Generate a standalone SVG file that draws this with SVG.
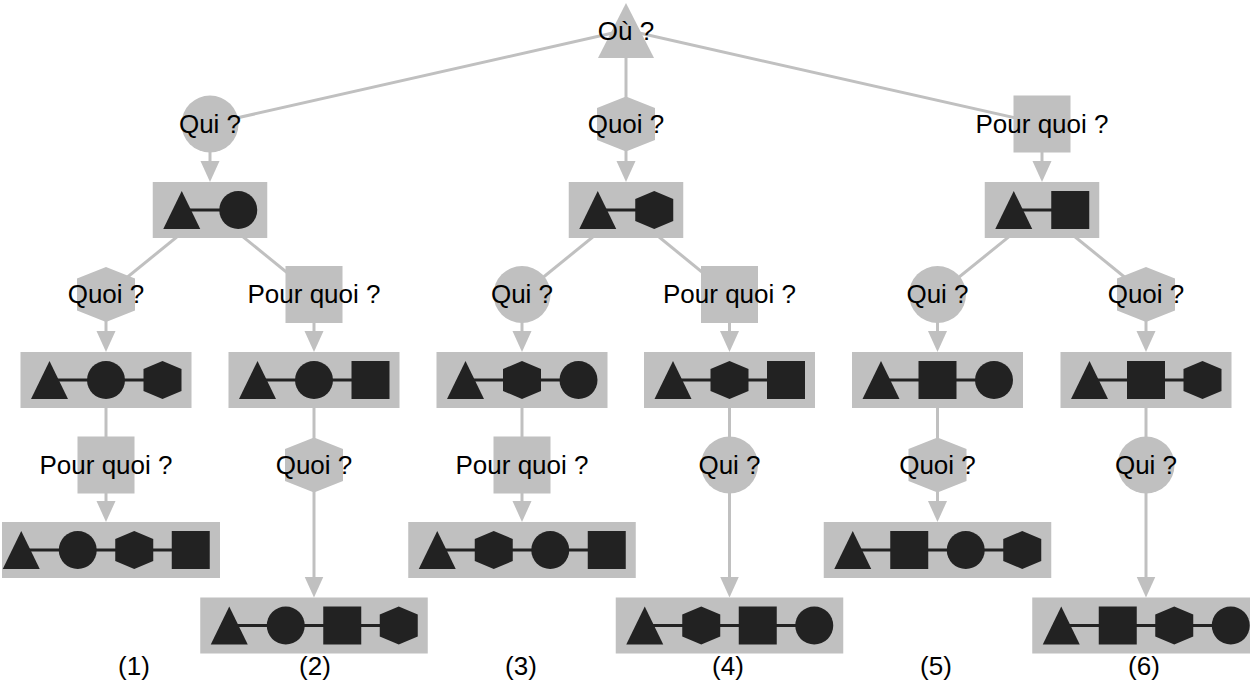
<svg xmlns="http://www.w3.org/2000/svg" xmlns:xlink="http://www.w3.org/1999/xlink" width="1250" height="688" viewBox="0 0 1250 688">
<style>
.e{stroke:#c0c0c0;stroke-width:3;fill:none}
.a{marker-end:url(#arr)}
.n{fill:#c0c0c0}
.s{fill:#222}
.lk{stroke:#222;stroke-width:3}
text{font-family:"Liberation Sans",Arial,Helvetica,sans-serif;font-size:26px;text-anchor:middle;fill:#000}
</style>
<defs>
<marker id="arr" markerUnits="userSpaceOnUse" viewBox="0 0 22 20" markerWidth="22" markerHeight="20" refX="11" refY="10" orient="auto"><path d="M0,0.5 L21,10 L0,19.5 Z" fill="#c0c0c0"/></marker>
<path id="sT" d="M0,-19 L18.5,19 L-18.5,19 Z"/>
<circle id="sC" r="19"/>
<path id="sH" d="M0,-19 L19,-11 L19,11 L0,19 L-19,11 L-19,-11 Z"/>
<rect id="sS" x="-19" y="-19" width="38" height="38"/>
<circle id="qC" r="28.5"/>
<path id="qH" d="M0,-27.5 L29,-16 L29,16 L0,27.5 L-29,16 L-29,-16 Z"/>
<rect id="qS" x="-28.5" y="-28.5" width="57" height="57"/>
</defs>
<rect width="1250" height="688" fill="#fff"/>
<g id="connectors">
<path class="e" d="M626,30 L210,124"/>
<path class="e" d="M626,30 L626,124"/>
<path class="e" d="M626,30 L1042,124"/>
<path class="e a" d="M210,124 L210,172"/>
<path class="e a" d="M626,124 L626,172"/>
<path class="e a" d="M1042,124 L1042,172"/>
<path class="e" d="M210,210 L106,294.5"/>
<path class="e" d="M210,210 L314,294.5"/>
<path class="e" d="M626,210 L522,294.5"/>
<path class="e" d="M626,210 L729.5,294.5"/>
<path class="e" d="M1042,210 L937.5,294.5"/>
<path class="e" d="M1042,210 L1146,294.5"/>
<path class="e a" d="M106,294.5 L106,342"/>
<path class="e a" d="M314,294.5 L314,342"/>
<path class="e a" d="M522,294.5 L522,342"/>
<path class="e a" d="M729.5,294.5 L729.5,342"/>
<path class="e a" d="M937.5,294.5 L937.5,342"/>
<path class="e a" d="M1146,294.5 L1146,342"/>
<path class="e" d="M106,380 L106,465"/>
<path class="e" d="M314,380 L314,465"/>
<path class="e" d="M522,380 L522,465"/>
<path class="e" d="M729.5,380 L729.5,465"/>
<path class="e" d="M937.5,380 L937.5,465"/>
<path class="e" d="M1146,380 L1146,465"/>
<path class="e a" d="M106,465 L106,512"/>
<path class="e a" d="M314,465 L314,587.5"/>
<path class="e a" d="M522,465 L522,512"/>
<path class="e a" d="M729.5,465 L729.5,587.5"/>
<path class="e a" d="M937.5,465 L937.5,512"/>
<path class="e a" d="M1146,465 L1146,587.5"/>
</g>
<g id="q-ou"><path class="n" d="M626,3 L654,58 L598,58 Z"/><text x="626" y="40">Où ?</text></g>
<g id="q1-qui"><use href="#qC" x="210" y="124" class="n"/><text x="210" y="132.5">Qui ?</text></g>
<g id="q1-quoi"><use href="#qH" x="626" y="124" class="n"/><text x="626" y="132.5">Quoi ?</text></g>
<g id="q1-pourquoi"><use href="#qS" x="1042" y="124" class="n"/><text x="1042" y="132.5">Pour quoi ?</text></g>
<g id="b1-a"><rect class="n" x="152.75" y="182" width="114.5" height="56"/><line class="lk" x1="181.75" y1="210" x2="238.25" y2="210"/><use href="#sT" x="181.75" y="210" class="s"/><use href="#sC" x="238.25" y="210" class="s"/></g>
<g id="b1-b"><rect class="n" x="568.75" y="182" width="114.5" height="56"/><line class="lk" x1="597.75" y1="210" x2="654.25" y2="210"/><use href="#sT" x="597.75" y="210" class="s"/><use href="#sH" x="654.25" y="210" class="s"/></g>
<g id="b1-c"><rect class="n" x="984.75" y="182" width="114.5" height="56"/><line class="lk" x1="1013.75" y1="210" x2="1070.25" y2="210"/><use href="#sT" x="1013.75" y="210" class="s"/><use href="#sS" x="1070.25" y="210" class="s"/></g>
<g id="q2-1"><use href="#qH" x="106" y="294.5" class="n"/><text x="106" y="303">Quoi ?</text></g>
<g id="q2-2"><use href="#qS" x="314" y="294.5" class="n"/><text x="314" y="303">Pour quoi ?</text></g>
<g id="q2-3"><use href="#qC" x="522" y="294.5" class="n"/><text x="522" y="303">Qui ?</text></g>
<g id="q2-4"><use href="#qS" x="729.5" y="294.5" class="n"/><text x="729.5" y="303">Pour quoi ?</text></g>
<g id="q2-5"><use href="#qC" x="937.5" y="294.5" class="n"/><text x="937.5" y="303">Qui ?</text></g>
<g id="q2-6"><use href="#qH" x="1146" y="294.5" class="n"/><text x="1146" y="303">Quoi ?</text></g>
<g id="b2-1"><rect class="n" x="20.5" y="352" width="171" height="56"/><line class="lk" x1="49.5" y1="380" x2="162.5" y2="380"/><use href="#sT" x="49.5" y="380" class="s"/><use href="#sC" x="106" y="380" class="s"/><use href="#sH" x="162.5" y="380" class="s"/></g>
<g id="b2-2"><rect class="n" x="228.5" y="352" width="171" height="56"/><line class="lk" x1="257.5" y1="380" x2="370.5" y2="380"/><use href="#sT" x="257.5" y="380" class="s"/><use href="#sC" x="314" y="380" class="s"/><use href="#sS" x="370.5" y="380" class="s"/></g>
<g id="b2-3"><rect class="n" x="436.5" y="352" width="171" height="56"/><line class="lk" x1="465.5" y1="380" x2="578.5" y2="380"/><use href="#sT" x="465.5" y="380" class="s"/><use href="#sH" x="522" y="380" class="s"/><use href="#sC" x="578.5" y="380" class="s"/></g>
<g id="b2-4"><rect class="n" x="644" y="352" width="171" height="56"/><line class="lk" x1="673" y1="380" x2="786" y2="380"/><use href="#sT" x="673" y="380" class="s"/><use href="#sH" x="729.5" y="380" class="s"/><use href="#sS" x="786" y="380" class="s"/></g>
<g id="b2-5"><rect class="n" x="852" y="352" width="171" height="56"/><line class="lk" x1="881" y1="380" x2="994" y2="380"/><use href="#sT" x="881" y="380" class="s"/><use href="#sS" x="937.5" y="380" class="s"/><use href="#sC" x="994" y="380" class="s"/></g>
<g id="b2-6"><rect class="n" x="1060.5" y="352" width="171" height="56"/><line class="lk" x1="1089.5" y1="380" x2="1202.5" y2="380"/><use href="#sT" x="1089.5" y="380" class="s"/><use href="#sS" x="1146" y="380" class="s"/><use href="#sH" x="1202.5" y="380" class="s"/></g>
<g id="q3-1"><use href="#qS" x="106" y="465" class="n"/><text x="106" y="473.5">Pour quoi ?</text></g>
<g id="q3-2"><use href="#qH" x="314" y="465" class="n"/><text x="314" y="473.5">Quoi ?</text></g>
<g id="q3-3"><use href="#qS" x="522" y="465" class="n"/><text x="522" y="473.5">Pour quoi ?</text></g>
<g id="q3-4"><use href="#qC" x="729.5" y="465" class="n"/><text x="729.5" y="473.5">Qui ?</text></g>
<g id="q3-5"><use href="#qH" x="937.5" y="465" class="n"/><text x="937.5" y="473.5">Quoi ?</text></g>
<g id="q3-6"><use href="#qC" x="1146" y="465" class="n"/><text x="1146" y="473.5">Qui ?</text></g>
<g id="b3-1"><rect class="n" x="2" y="522" width="218" height="56"/><line class="lk" x1="21.25" y1="550" x2="190.75" y2="550"/><use href="#sT" x="21.25" y="550" class="s"/><use href="#sC" x="77.75" y="550" class="s"/><use href="#sH" x="134.25" y="550" class="s"/><use href="#sS" x="190.75" y="550" class="s"/></g>
<g id="b3-2"><rect class="n" x="200.25" y="597.5" width="227.5" height="56"/><line class="lk" x1="229.25" y1="625.5" x2="398.75" y2="625.5"/><use href="#sT" x="229.25" y="625.5" class="s"/><use href="#sC" x="285.75" y="625.5" class="s"/><use href="#sS" x="342.25" y="625.5" class="s"/><use href="#sH" x="398.75" y="625.5" class="s"/></g>
<g id="b3-3"><rect class="n" x="408.25" y="522" width="227.5" height="56"/><line class="lk" x1="437.25" y1="550" x2="606.75" y2="550"/><use href="#sT" x="437.25" y="550" class="s"/><use href="#sH" x="493.75" y="550" class="s"/><use href="#sC" x="550.25" y="550" class="s"/><use href="#sS" x="606.75" y="550" class="s"/></g>
<g id="b3-4"><rect class="n" x="615.75" y="597.5" width="227.5" height="56"/><line class="lk" x1="644.75" y1="625.5" x2="814.25" y2="625.5"/><use href="#sT" x="644.75" y="625.5" class="s"/><use href="#sH" x="701.25" y="625.5" class="s"/><use href="#sS" x="757.75" y="625.5" class="s"/><use href="#sC" x="814.25" y="625.5" class="s"/></g>
<g id="b3-5"><rect class="n" x="823.75" y="522" width="227.5" height="56"/><line class="lk" x1="852.75" y1="550" x2="1022.25" y2="550"/><use href="#sT" x="852.75" y="550" class="s"/><use href="#sS" x="909.25" y="550" class="s"/><use href="#sC" x="965.75" y="550" class="s"/><use href="#sH" x="1022.25" y="550" class="s"/></g>
<g id="b3-6"><rect class="n" x="1032.25" y="597.5" width="227.5" height="56"/><line class="lk" x1="1061.25" y1="625.5" x2="1230.75" y2="625.5"/><use href="#sT" x="1061.25" y="625.5" class="s"/><use href="#sS" x="1117.75" y="625.5" class="s"/><use href="#sH" x="1174.25" y="625.5" class="s"/><use href="#sC" x="1230.75" y="625.5" class="s"/></g>
<g id="labels">
<text x="134" y="675">(1)</text>
<text x="315" y="675">(2)</text>
<text x="521" y="675">(3)</text>
<text x="728" y="675">(4)</text>
<text x="936" y="675">(5)</text>
<text x="1144" y="675">(6)</text>
</g>
</svg>
